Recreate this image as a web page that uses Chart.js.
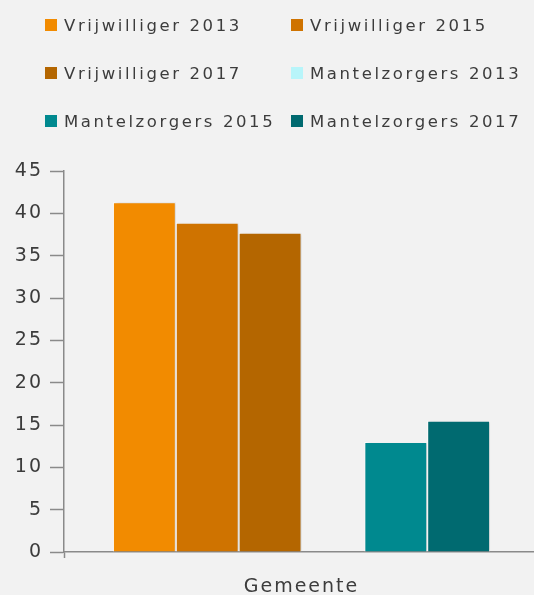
<!DOCTYPE html>
<html>
<head>
<meta charset="utf-8">
<script src="https://cdn.jsdelivr.net/npm/chart.js@4"></script>
<style>
  html, body { margin: 0; padding: 0; width: 534px; height: 595px; overflow: hidden; background: #f2f2f2; }
  #wrap { position: relative; width: 539px; height: 595px; }
  #legend { position: absolute; left: 0; top: 0; width: 534px; height: 150px;
            font-family: 'DejaVu Sans', sans-serif; font-size: 16.5px; letter-spacing: 2.6px; color: #3c3c3c; }
  .item { position: absolute; display: flex; align-items: center; height: 20px; white-space: nowrap; }
  .box { width: 12px; height: 12px; margin-right: 7px; flex: none; }
</style>
</head>
<body>
<div id="wrap">
  <canvas id="myChart" width="539" height="595"></canvas>
  <div id="legend"></div>
</div>
<script>
const categories = ['Gemeente'];
const years = ['2013', '2015', '2017'];
const vrijwilliger = [41.3, 38.9, 37.7];
const mantelzorgers = [null, 13.0, 15.5];
const vrijColors = ['#f28b00', '#cf7300', '#b46600'];
const mantelColors = ['#b8f5fa', '#00898f', '#006a70'];
const yTicks = { min: 0, max: 45, step: 5 };

const datasets = [];
years.forEach((y, i) => datasets.push({ label: 'Vrijwilliger ' + y, data: [vrijwilliger[i]], backgroundColor: vrijColors[i] }));
years.forEach((y, i) => datasets.push({ label: 'Mantelzorgers ' + y, data: [mantelzorgers[i]], backgroundColor: mantelColors[i] }));

// legend: two columns, three rows
const legend = document.getElementById('legend');
const colX = [45, 291];
const rowY = [25, 73, 121];
datasets.forEach((ds, i) => {
  const item = document.createElement('div');
  item.className = 'item';
  item.style.left = colX[i % 2] + 'px';
  item.style.top = (rowY[Math.floor(i / 2)] - 10) + 'px';
  item.innerHTML = '<span class="box" style="background:' + ds.backgroundColor + '"></span>' + ds.label;
  legend.appendChild(item);
});

const axisColor = '#8a8a8a';
const textColor = '#3c3c3c';

// wide lettering on the canvas text
const spacing = {
  id: 'spacing',
  beforeUpdate(chart) { chart.ctx.letterSpacing = '2px'; },
  beforeDraw(chart) { chart.ctx.letterSpacing = '2px'; }
};

// soft shadow to the right of the bars
const barShadow = {
  id: 'barShadow',
  beforeDatasetsDraw(chart) {
    const c = chart.ctx;
    c.save();
    c.shadowColor = 'rgba(0,0,0,0.18)';
    c.shadowBlur = 3;
    c.shadowOffsetX = 2;
    c.shadowOffsetY = 0;
  },
  afterDatasetsDraw(chart) { chart.ctx.restore(); }
};

const ctx = document.getElementById('myChart').getContext('2d');
new Chart(ctx, {
  type: 'bar',
  data: {
    labels: categories,
    datasets: datasets.map(ds => Object.assign(ds, {
      borderColor: 'rgba(255,255,255,0.85)',
      borderWidth: 1,
      categoryPercentage: 0.794,
      barPercentage: 1.0
    }))
  },
  options: {
    responsive: false,
    animation: false,
    layout: { padding: { top: 171, left: 0, right: 0, bottom: 0 } },
    plugins: { legend: { display: false }, tooltip: { enabled: false } },
    scales: {
      x: {
        grid: { drawOnChartArea: false, drawTicks: true, tickLength: 6, color: axisColor, tickColor: axisColor, tickWidth: 1.5 },
        border: { color: axisColor, width: 1.5 },
        ticks: { color: textColor, padding: 18, font: { family: 'DejaVu Sans', size: 19 } },
        afterFit: s => { s.height = 43; }
      },
      y: {
        min: yTicks.min,
        max: yTicks.max,
        grid: { drawOnChartArea: false, drawTicks: true, tickLength: 14, color: axisColor, tickColor: axisColor, tickWidth: 1.5 },
        border: { color: axisColor, width: 1.5 },
        ticks: { stepSize: yTicks.step, color: textColor, padding: 7, font: { family: 'DejaVu Sans', size: 19 } },
        afterFit: s => { s.width = 64; }
      }
    }
  },
  plugins: [spacing, barShadow]
});
</script>
</body>
</html>
